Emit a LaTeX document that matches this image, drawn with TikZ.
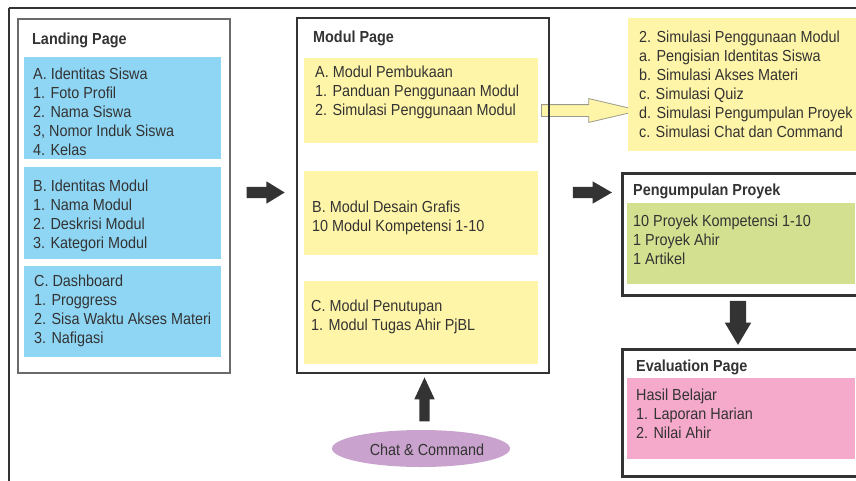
\documentclass[tikz,border=0pt]{standalone}
\usepackage{fontspec}
\setmainfont{Liberation Sans}[FakeStretch=0.9]
\usetikzlibrary{shapes.geometric,shapes.arrows}
\definecolor{ink}{HTML}{333333}
\definecolor{framegray}{HTML}{6A6A6A}
\definecolor{skyfill}{HTML}{8FD6F4}
\definecolor{lemonfill}{HTML}{FFF5A8}
\definecolor{limefill}{HTML}{D3E08F}
\definecolor{rosefill}{HTML}{F5A9CB}
\definecolor{lilacfill}{HTML}{C9A2CD}
\definecolor{arrowline}{HTML}{9A9A8A}
\begin{document}
\begin{tikzpicture}[x=1pt,y=-1pt,
  panel/.style={draw=ink, line width=2pt, fill=white, anchor=north west, inner sep=0pt},
  swatch/.style={anchor=north west, inner sep=0pt},
  heading/.style={anchor=base west, inner sep=0pt, text=ink, font=\fontsize{16}{19}\selectfont\bfseries},
  body/.style={anchor=north west, inner sep=0pt, align=left, text=ink, font=\fontsize{16}{19}\selectfont},
  blockarrow/.style={single arrow, fill=ink, draw=none},
]
\useasboundingbox (0,0) rectangle (856,480);
\clip (0,0) rectangle (856,480);
\fill[white] (0,0) rectangle (856,480);

% outer frame (runs off the right and bottom edges)
\draw[ink, line width=2.5pt] (8.5,8) -- (870,8);
\draw[ink, line width=2pt] (8.5,8) -- (8.5,490);

% ---------- Landing Page ----------
\node[panel, draw=framegray, minimum width=212pt, minimum height=354pt] (landing) at (17,18) {};
\node[swatch, fill=skyfill, minimum width=197pt, minimum height=102pt] (landA) at (24,57) {};
\node[swatch, fill=skyfill, minimum width=197pt, minimum height=92pt] (landB) at (24,167) {};
\node[swatch, fill=skyfill, minimum width=197pt, minimum height=91pt] (landC) at (24,266) {};
\node[heading] (landT) at (32,44) {Landing Page};
\node[body] (landAt) at (33,67.3) {A. Identitas Siswa\\1. Foto Profil\\2. Nama Siswa\\3, Nomor Induk Siswa\\4. Kelas};
\node[body] (landBt) at (33,180) {B. Identitas Modul\\1. Nama Modul\\2. Deskrisi Modul\\3. Kategori Modul};
\node[body] (landCt) at (34,275) {C. Dashboard\\1. Proggress\\2. Sisa Waktu Akses Materi\\3. Nafigasi};

% ---------- Modul Page: sections first, then the hint arrow, then the border on top ----------
\node[swatch, fill=lemonfill, minimum width=234pt, minimum height=85pt] (modA) at (304,58) {};
\node[swatch, fill=lemonfill, minimum width=234pt, minimum height=84pt] (modB) at (304,171) {};
\node[swatch, fill=lemonfill, minimum width=234pt, minimum height=83pt] (modC) at (304,281) {};
\node[single arrow, fill=lemonfill, draw=arrowline, line width=0.8pt,
      inner xsep=0pt, inner ysep=5.5pt, single arrow head extend=6pt,
      single arrow tip angle=26.4, minimum height=98pt] (hint) at (578,110.5) {};
\node[panel, fill=none, minimum width=252pt, minimum height=355pt] (modul) at (296,17) {};
\node[heading] (modT) at (313,42) {Modul Page};
\node[body] (modAt) at (315,65.3) {A. Modul Pembukaan\\1. Panduan Penggunaan Modul\\2. Simulasi Penggunaan Modul};
\node[body] (modBt) at (312,200.3) {B. Modul Desain Grafis\\10 Modul Kompetensi 1-10};
\node[body] (modCt) at (311,299.3) {C. Modul Penutupan\\1. Modul Tugas Ahir PjBL};

% ---------- simulation list ----------
\node[swatch, fill=lemonfill, minimum width=240pt, minimum height=133pt] (sim) at (628,18) {};
\node[body] (simt) at (639,30.3) {2. Simulasi Penggunaan Modul\\a. Pengisian Identitas Siswa\\b. Simulasi Akses Materi\\c. Simulasi Quiz\\d. Simulasi Pengumpulan Proyek\\c. Simulasi Chat dan Command};

% ---------- Pengumpulan Proyek ----------
\node[panel, line width=2.5pt, minimum width=250pt, minimum height=122pt] (proj) at (621,172) {};
\node[swatch, fill=limefill, minimum width=228pt, minimum height=81pt] (projG) at (627,203) {};
\node[heading] (projT) at (633,195) {Pengumpulan Proyek};
\node[body] (projt) at (633,214.3) {10 Proyek Kompetensi 1-10\\1 Proyek Ahir\\1 Artikel};

% ---------- Evaluation Page ----------
\node[panel, line width=2.5pt, minimum width=250pt, minimum height=127pt] (eval) at (621,348) {};
\node[swatch, fill=rosefill, minimum width=228pt, minimum height=81pt] (evalP) at (627,378) {};
\node[heading] (evalT) at (636,371) {Evaluation Page};
\node[body] (evalt) at (636,388.3) {Hasil Belajar\\1. Laporan Harian\\2. Nilai Ahir};

% ---------- Chat & Command ----------
\node[ellipse, fill=lilacfill, draw=none, minimum width=178pt, minimum height=37pt, inner sep=0pt] (chat) at (421,448.5) {};
\node[anchor=base, inner sep=0pt, text=ink, font=\fontsize{16}{19}\selectfont] (chatt) at (427,455) {Chat \& Command};

% ---------- flow arrows ----------
\node[blockarrow, inner xsep=0pt, inner ysep=5.5pt, single arrow head extend=5.5pt,
      single arrow tip angle=62.9, minimum height=38pt] (goModul) at (261,192.5) {};
\node[blockarrow, inner xsep=0pt, inner ysep=5.5pt, single arrow head extend=5.5pt,
      single arrow tip angle=60, minimum height=39pt] (goProj) at (587.5,192.5) {};
\node[blockarrow, shape border rotate=270, inner ysep=0pt, inner xsep=8pt, single arrow head extend=5pt,
      single arrow tip angle=61.5, minimum height=44pt] (goEval) at (738,316) {};
\node[blockarrow, shape border rotate=90, inner ysep=0pt, inner xsep=5pt, single arrow head extend=5pt,
      single arrow tip angle=50, minimum height=44pt] (goChat) at (424.5,405) {};
\end{tikzpicture}
\end{document}
